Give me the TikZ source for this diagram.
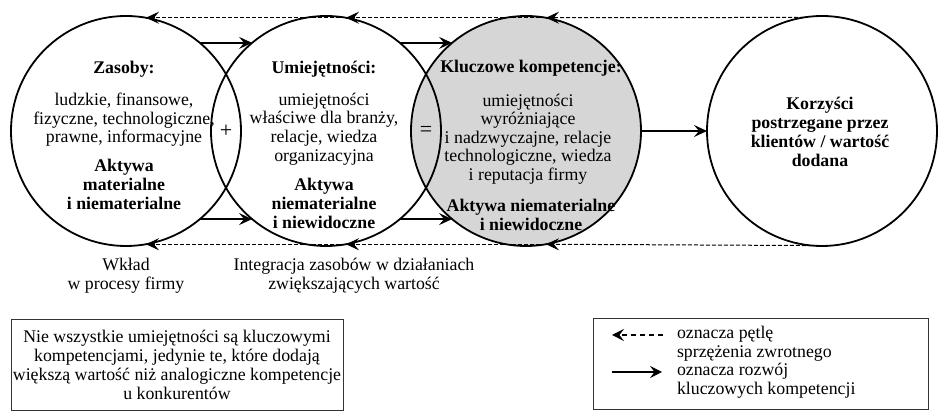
\documentclass[tikz,border=0pt]{standalone}
\usepackage{fontspec}
\setmainfont{Liberation Serif}
\usetikzlibrary{arrows.meta,calc}
\definecolor{coregray}{RGB}{214,214,214}
\begin{document}
\begin{tikzpicture}[x=0.5pt,y=-0.5pt,
  every node/.style={font=\fontsize{8.9}{9.3}\selectfont, inner sep=0pt, outer sep=0pt},
  ring/.style={circle, draw, line width=0.9pt, minimum size=115pt},
  txt/.style={align=center},
  head/.style={align=center, font=\fontsize{8.9}{9.5}\selectfont\bfseries},
  devel/.style={-{Stealth[length=6.5pt,width=6pt,inset=2.5pt]}, line width=0.7pt},
  fb/.style={-{Stealth[length=6.5pt,width=6pt,inset=2.5pt]}, line width=0.5pt, dash pattern=on 2pt off 1pt},
  keyfb/.style={-{Stealth[length=6pt,width=6pt,inset=2.3pt]}, line width=0.6pt, dash pattern=on 2.5pt off 2pt},
  keydev/.style={-{Stealth[length=6pt,width=6pt,inset=2.3pt]}, line width=0.7pt},
  frame/.style={draw=black!80, line width=0.5pt, align=center}]
\useasboundingbox (0,0) rectangle (938,415);

% the four circles (the shaded one first so the others' outlines lie on top)
\node[ring, fill=coregray] (c3) at (526,131) {};
\node[ring] (c1) at (126,131) {};
\node[ring] (c2) at (326,131) {};
\node[ring] (c4) at (822,131) {};

% signs in the overlaps
\node[font=\fontsize{11}{12}\selectfont] (plus) at ($(c1)!0.5!(c2)$) {+};
\node[font=\fontsize{11}{12}\selectfont] (eq) at ($(c2)!0.5!(c3)$) {=};

% texts of the circles
\node[head] (t1) at (124,69) {Zasoby:};
\node[txt]  (b1) at (124,120) {ludzkie, finansowe,\\fizyczne, technologiczne,\\prawne, informacyjne};
\node[head] (a1) at (124,184) {Aktywa\\materialne\\i niematerialne};

\node[head] (t2) at (324,69) {Umiejętności:};
\node[txt]  (b2) at (324,129) {umiejętności\\właściwe dla branży,\\relacje, wiedza\\organizacyjna};
\node[head] (a2) at (324,203) {Aktywa\\niematerialne\\i niewidoczne};

\node[head] (t3) at (531,68) {Kluczowe kompetencje:};
\node[txt]  (b3) at (528,139) {umiejętności\\wyróżniające\\i nadzwyczajne, relacje\\technologiczne, wiedza\\i reputacja firmy};
\node[head] (a3) at (531,215) {Aktywa niematerialne\\i niewidoczne};

\node[head] (b4) at (820,132) {Korzyści\\postrzegane przez\\klientów / wartość\\dodana};

% development arrows
\draw[devel] (c1.50) -- (c2.130);
\draw[devel] (c1.-50) -- (c2.-130);
\draw[devel] (c2.50) -- (c3.130);
\draw[devel] (c2.-50) -- (c3.-130);
\draw[devel] (c3.east) -- (c4.west);

% feedback loops
\draw[fb] (c4.99) -- (c3.80);
\draw[fb] (c3.80) -- (c2.80);
\draw[fb] (c2.80) -- (c1.80);
\draw[fb] (c4.-95) -- (c3.-80);
\draw[fb] (c3.-80) -- (c2.-80);
\draw[fb] (c2.-80) -- (c1.-80);

% captions under the circles
\node[txt] (cap1) at (126,276) {Wkład\\w procesy firmy};
\node[txt] (cap2) at (354,276) {Integracja zasobów w działaniach\\zwiększających wartość};

% note box
\node[frame, minimum width=166pt, minimum height=45.5pt,
      font=\fontsize{8.9}{9.6}\selectfont] (note) at (177,365)
  {Nie wszystkie umiejętności są kluczowymi\\kompetencjami, jedynie te, które dodają\\większą wartość niż analogiczne kompetencje\\u konkurentów};

% key box
\node[draw=black!80, line width=0.5pt, minimum width=167.5pt, minimum height=45.5pt] (key) at (760.5,364.5) {};
\node[align=left, anchor=west] (k1) at (677,344) {oznacza pętlę\\sprzężenia zwrotnego};
\node[align=left, anchor=west] (k2) at (677,381) {oznacza rozwój\\kluczowych kompetencji};
\coordinate (k1a) at (663,335);
\coordinate (k1b) at (612,335);
\coordinate (k2a) at (612,372);
\coordinate (k2b) at (662,372);
\draw[keyfb] (k1a) -- (k1b);
\draw[keydev] (k2a) -- (k2b);
\end{tikzpicture}
\end{document}
